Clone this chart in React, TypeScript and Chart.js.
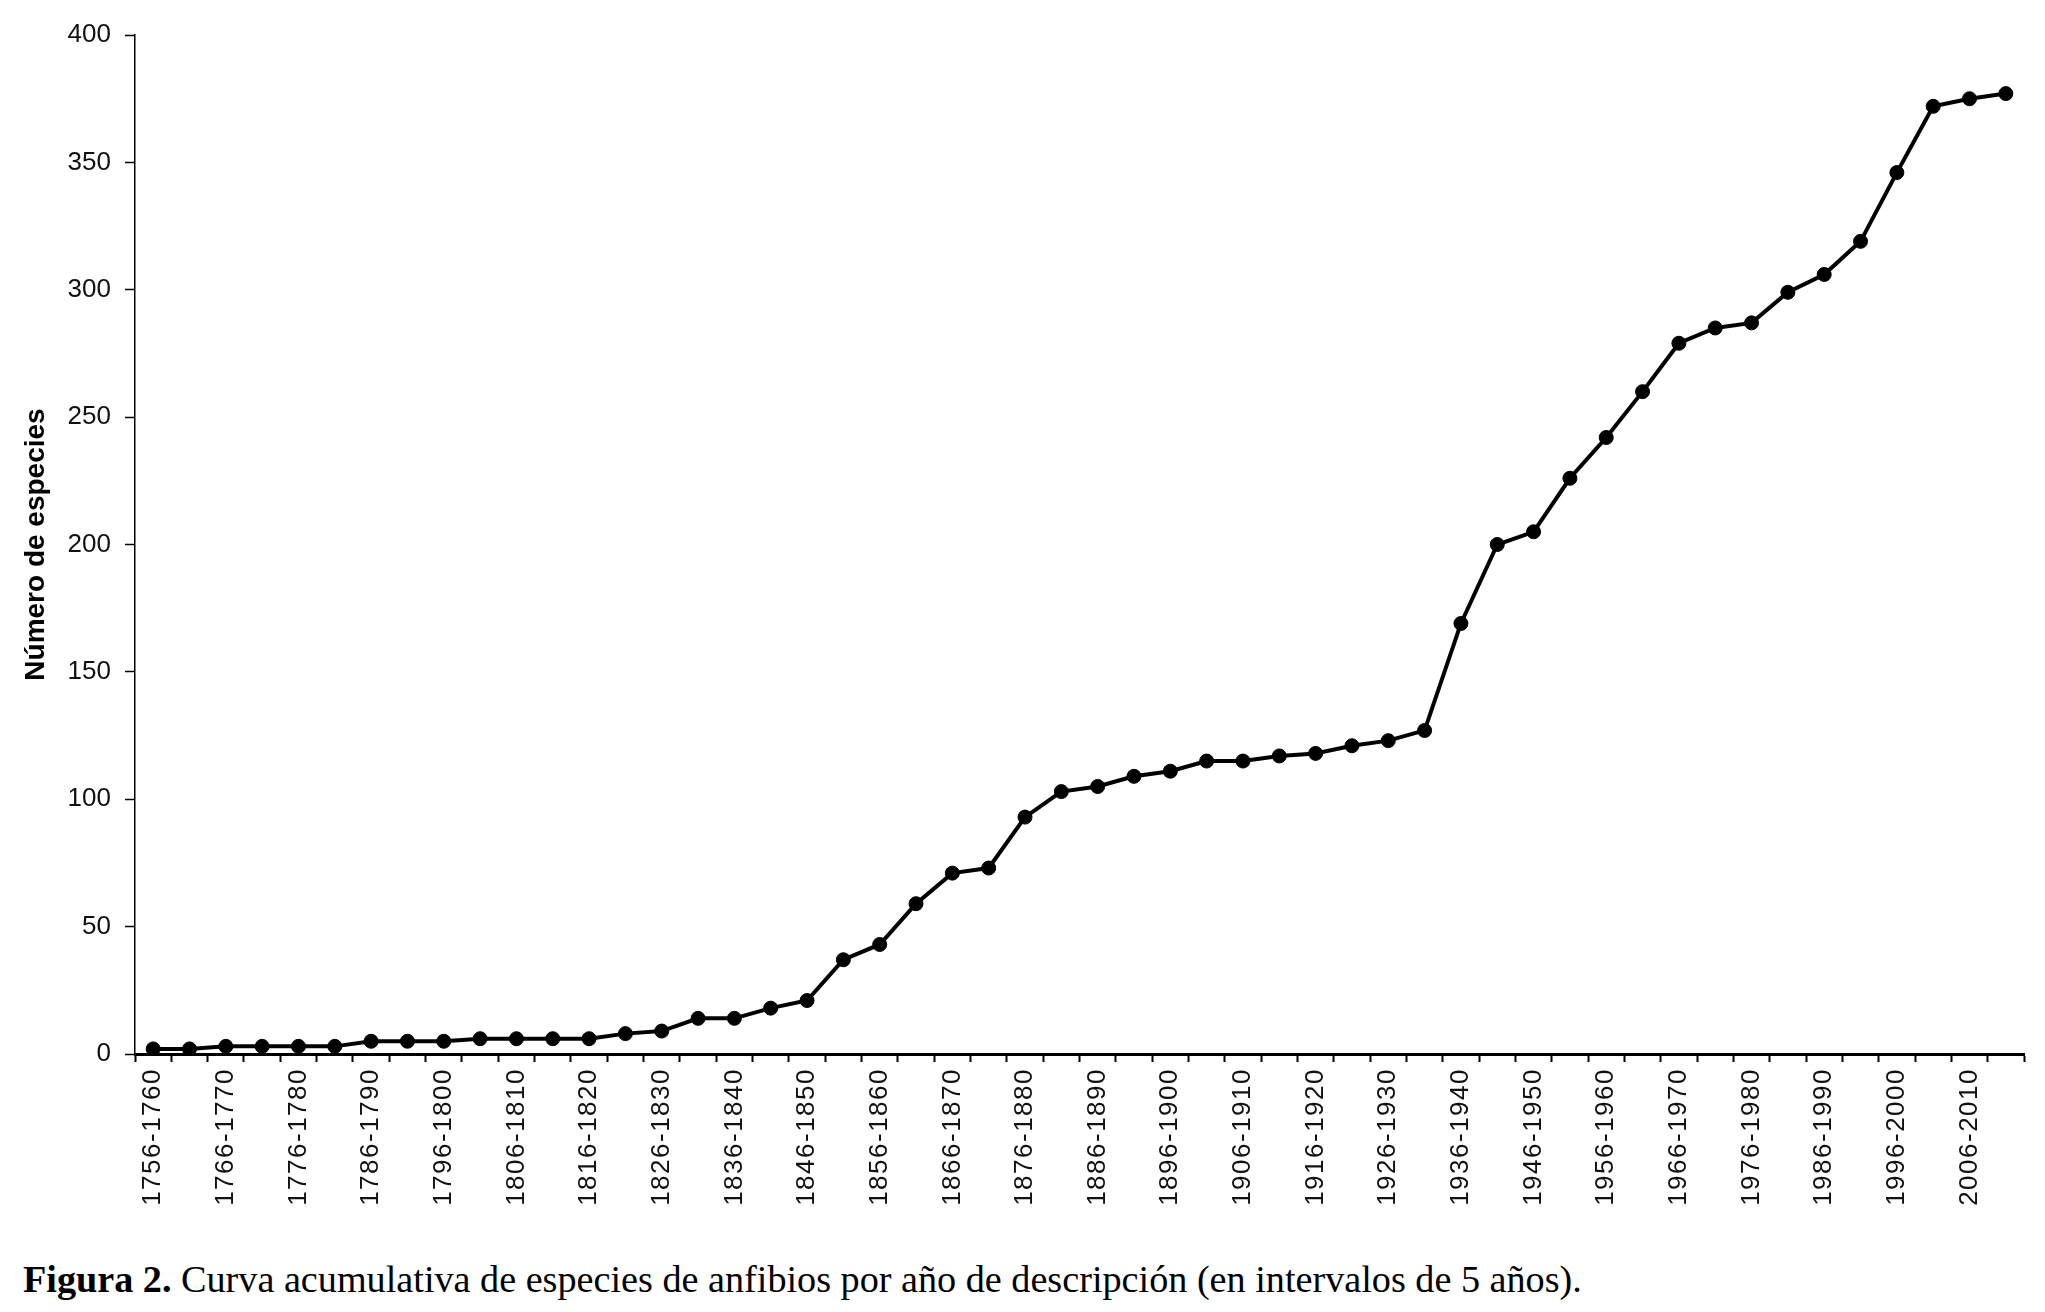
import React, { useEffect, useRef } from 'react';
import { Chart, registerables, CategoryScale } from 'chart.js';

Chart.register(...registerables);

class SpacedCategoryScale extends CategoryScale {
  static id = 'spacedCategory';
  static defaults = CategoryScale.defaults;
  drawLabels(chartArea: any) {
    const ctx: any = (this as any).ctx;
    ctx.save();
    ctx.letterSpacing = '1.5px';
    super.drawLabels(chartArea);
    ctx.restore();
  }
}
Chart.register(SpacedCategoryScale);

const categories = [
  '1756-1760', '1761-1765', '1766-1770', '1771-1775', '1776-1780', '1781-1785',
  '1786-1790', '1791-1795', '1796-1800', '1801-1805', '1806-1810', '1811-1815',
  '1816-1820', '1821-1825', '1826-1830', '1831-1835', '1836-1840', '1841-1845',
  '1846-1850', '1851-1855', '1856-1860', '1861-1865', '1866-1870', '1871-1875',
  '1876-1880', '1881-1885', '1886-1890', '1891-1895', '1896-1900', '1901-1905',
  '1906-1910', '1911-1915', '1916-1920', '1921-1925', '1926-1930', '1931-1935',
  '1936-1940', '1941-1945', '1946-1950', '1951-1955', '1956-1960', '1961-1965',
  '1966-1970', '1971-1975', '1976-1980', '1981-1985', '1986-1990', '1991-1995',
  '1996-2000', '2001-2005', '2006-2010', '2011-2015',
];

const speciesCount = [
  2, 2, 3, 3, 3, 3, 5, 5, 5, 6, 6, 6, 6, 8, 9, 14, 14, 18, 21, 37, 43, 59, 71, 73, 93,
  103, 105, 109, 111, 115, 115, 117, 118, 121, 123, 127, 169, 200, 205, 226, 242, 260,
  279, 285, 287, 299, 306, 319, 346, 372, 375, 377,
];

const yMin = 0;
const yMax = 400;
const yStep = 50;

const yAxisTitle = 'Número de especies';
const captionBold = 'Figura 2.';
const captionText = ' Curva acumulativa de especies de anfibios por año de descripción (en intervalos de 5 años).';

const CANVAS_W = 2045;
const CANVAS_H = 1240;
const AREA_LEFT = 135;
const AREA_TOP = 35;
const AREA_BOTTOM = 1054;
const AREA_RIGHT = 2024;

export default function App() {
  const canvasRef = useRef<HTMLCanvasElement | null>(null);

  useEffect(() => {
    if (!canvasRef.current) return;
    const chart = new Chart(canvasRef.current, {
      type: 'line',
      data: {
        labels: categories,
        datasets: [
          {
            data: speciesCount,
            borderColor: '#000',
            backgroundColor: '#000',
            borderWidth: 4,
            tension: 0,
            pointRadius: 7,
            pointBorderWidth: 1,
            pointBackgroundColor: '#000',
            pointBorderColor: '#000',
            fill: false,
          },
        ],
      },
      options: {
        responsive: false,
        animation: false,
        events: [],
        layout: {
          padding: { top: AREA_TOP, right: CANVAS_W - AREA_RIGHT, left: 0, bottom: 0 },
        },
        plugins: {
          legend: { display: false },
          tooltip: { enabled: false },
        },
        scales: {
          x: {
            type: 'spacedCategory',
            offset: true,
            ticks: {
              autoSkip: false,
              maxRotation: 90,
              minRotation: 90,
              padding: 6,
              color: '#111',
              font: { family: "'Liberation Sans', Arial, sans-serif", size: 26 },
              callback: (_v: any, i: number) => (i % 2 === 0 ? categories[i] : ''),
            },
            grid: {
              offset: true,
              drawOnChartArea: false,
              drawTicks: true,
              tickLength: 8,
              tickWidth: 2,
              tickColor: '#000',
            },
            border: { display: true, color: '#000', width: 3 },
            afterFit: (s: any) => {
              s.height = CANVAS_H - AREA_BOTTOM;
            },
          },
          y: {
            min: yMin,
            max: yMax,
            ticks: {
              stepSize: yStep,
              padding: 14,
              color: '#111',
              font: { family: "'Liberation Sans', Arial, sans-serif", size: 26 },
            },
            grid: {
              drawOnChartArea: false,
              drawTicks: true,
              tickLength: 10,
              tickWidth: 1.5,
              tickColor: '#000',
            },
            border: { display: true, color: '#000', width: 1.5 },
            title: {
              display: true,
              text: yAxisTitle,
              color: '#000',
              font: { family: "'Liberation Sans', Arial, sans-serif", size: 28, weight: 'bold' },
              padding: { top: 19, bottom: 0 },
            },
            afterFit: (s: any) => {
              s.width = AREA_LEFT;
            },
          },
        },
      } as any,
    });
    return () => chart.destroy();
  }, []);

  return (
    <div style={{ position: 'absolute', left: 0, top: 0, width: CANVAS_W, height: 1312, background: '#fff', overflow: 'hidden' }}>
      <canvas
        ref={canvasRef}
        width={CANVAS_W}
        height={CANVAS_H}
        style={{ position: 'absolute', left: 0, top: 0, width: CANVAS_W, height: CANVAS_H }}
      />
      <div
        style={{
          position: 'absolute',
          left: 23,
          top: 1260,
          fontFamily: "'Liberation Serif', 'Times New Roman', serif",
          fontSize: 38.2,
          lineHeight: '38px',
          whiteSpace: 'nowrap',
          color: '#000',
        }}
      >
        <b>{captionBold}</b>
        {captionText}
      </div>
    </div>
  );
}
